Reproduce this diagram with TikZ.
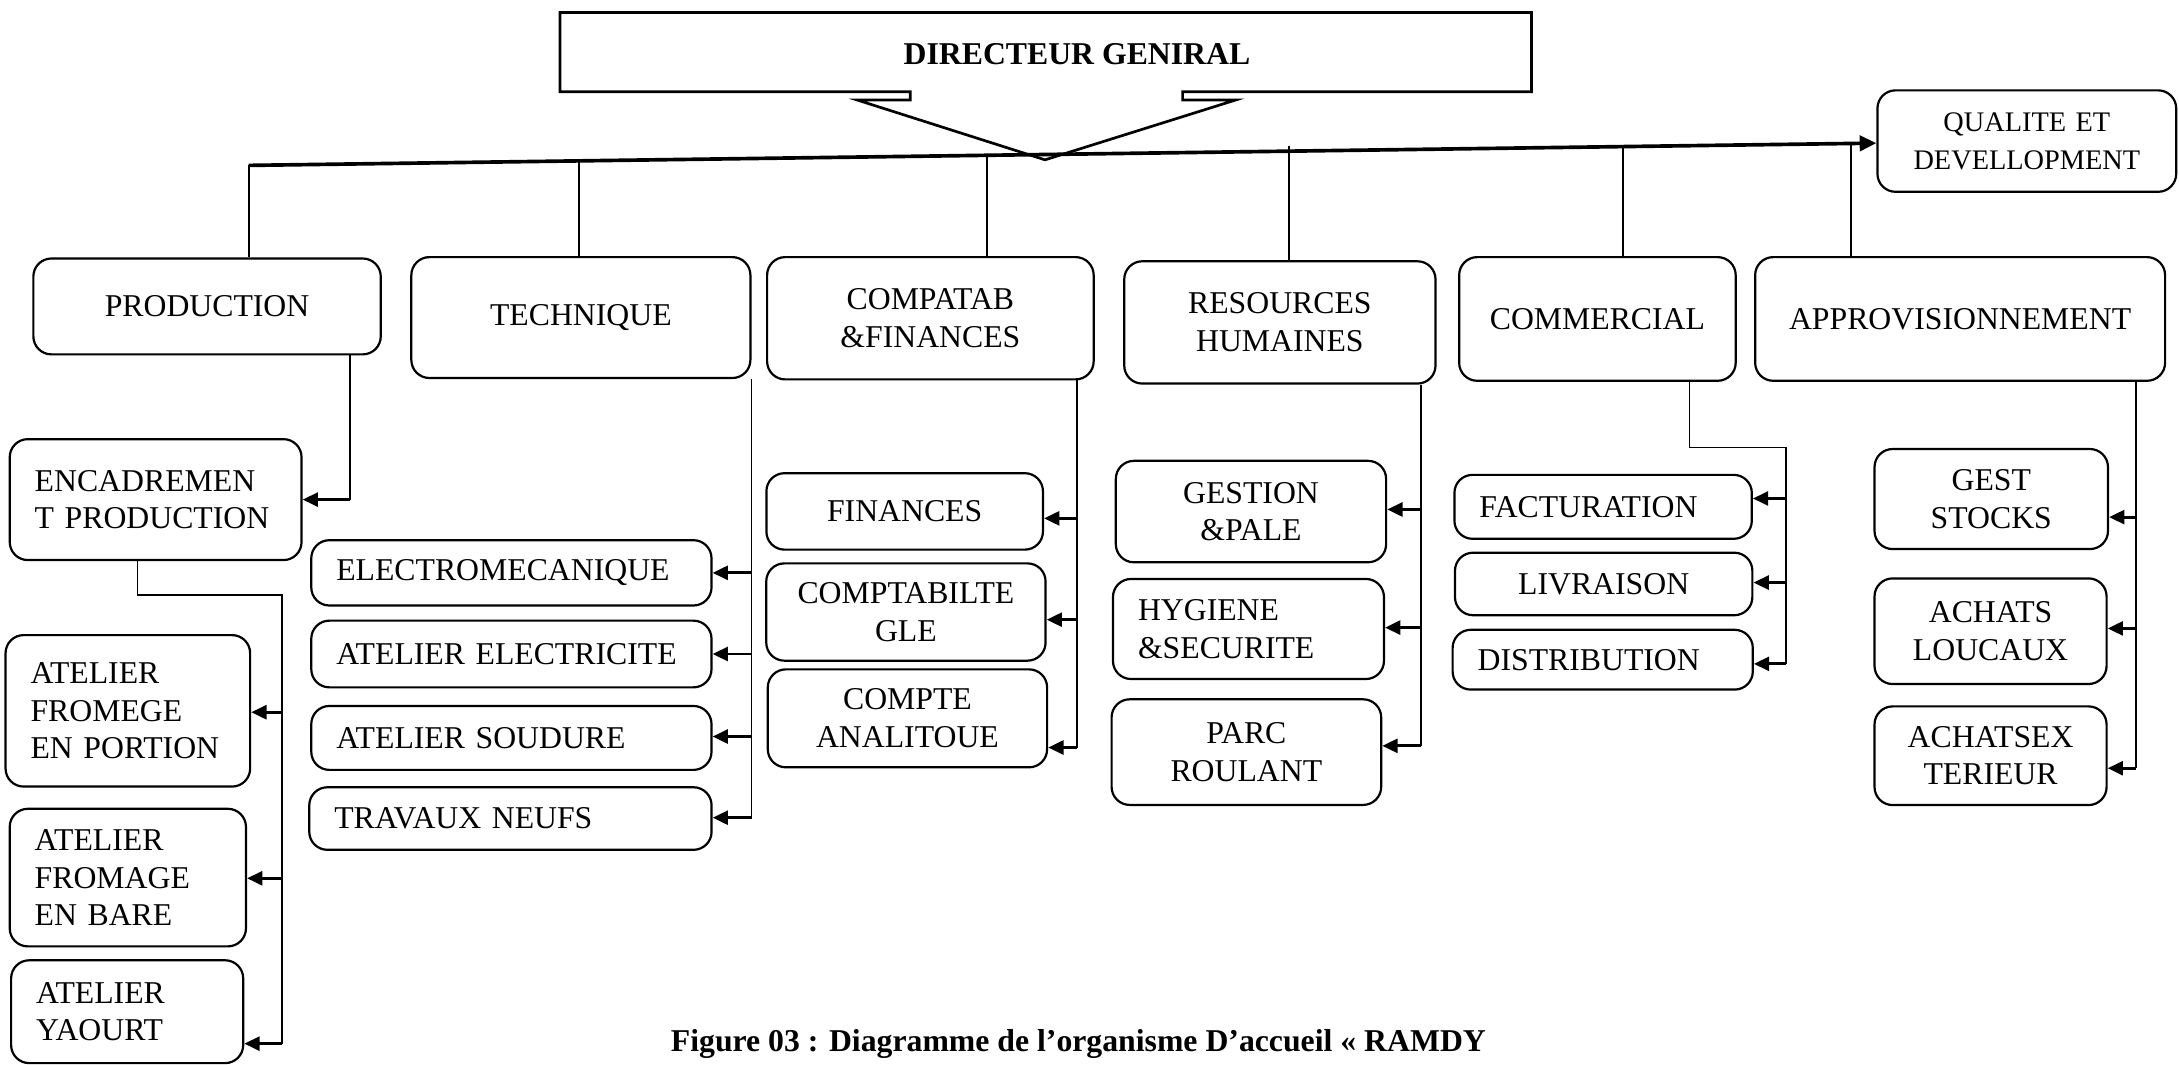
\documentclass[tikz,border=0pt]{standalone}
\usepackage{fontspec}
\setmainfont{Liberation Serif}
\tikzset{unite/.style={draw, rounded corners=1.3mm, line width=0.45pt, inner xsep=1.8mm, inner ysep=0.5pt, align=center}}
\tikzset{agauche/.style={align=left}}
\tikzset{gras/.style={font=\fontsize{6.5}{7.7}\selectfont\bfseries}}
\tikzset{fleche/.style={line width=0.6pt, -{Triangle[length=1.1mm,width=1mm]}}}
\usetikzlibrary{calc}
\usetikzlibrary{arrows.meta}

\begin{document}
\begin{tikzpicture}[x=0.1mm, y=-0.1mm, font=\fontsize{6.5}{7.7}\selectfont, line width=0.35pt]
\useasboundingbox (0,0) rectangle (1568,766);

% directeur
\node[gras] (dg) at (775,39) {DIRECTEUR GENIRAL};
\coordinate (pointe) at (752,115);
\draw[line width=0.55pt] (655,66) -- (403,66) -- (403,9) -- (1102,9) -- (1102,66) -- (851,66)
  -- (851,72) -- (889,72) -- (pointe) -- (617,72) -- (655,72) -- cycle;

% premier niveau
\node[unite, minimum width=21.5mm, minimum height=7.3mm, text width=19.5mm, inner xsep=1mm,
  font=\fontsize{5.8}{7.7}\selectfont] (qual) at (1458.5,101.5) {QUALITE ET\\DEVELLOPMENT};
\node[unite, minimum width=25mm, minimum height=6.9mm, text width=21.4mm] (prod) at (149,220.5) {PRODUCTION};
\node[unite, minimum width=24.4mm, minimum height=8.7mm, text width=20.8mm] (tech) at (418,228.5) {TECHNIQUE};
\node[unite, minimum width=23.5mm, minimum height=8.8mm, text width=19.9mm] (compta) at (669.5,229) {COMPATAB\\\&FINANCES};
\node[unite, minimum width=22.4mm, minimum height=8.8mm, text width=18.8mm] (rh) at (921,232) {RESOURCES\\HUMAINES};
\node[unite, minimum width=19.9mm, minimum height=8.9mm, text width=16.3mm] (comm) at (1149.5,229.5) {COMMERCIAL};
\node[unite, minimum width=29.5mm, minimum height=8.9mm, text width=25.9mm] (appro) at (1410.5,229.5) {APPROVISIONNEMENT};

% production
\node[unite, agauche, minimum width=21mm, minimum height=8.7mm, text width=17.4mm] (enc) at (112,359.5) {ENCADREMEN\\T PRODUCTION};
\node[unite, agauche, minimum width=17.6mm, minimum height=10.9mm, text width=14mm] (afp) at (92,511.5) {ATELIER\\FROMEGE\\EN PORTION};
\node[unite, agauche, minimum width=17mm, minimum height=9.9mm, text width=13.4mm] (afb) at (92,631.5) {ATELIER\\FROMAGE\\EN BARE};
\node[unite, agauche, minimum width=16.7mm, minimum height=7.4mm, text width=13.1mm] (ay) at (91.5,728) {ATELIER\\YAOURT};

% technique
\node[unite, agauche, minimum width=28.8mm, minimum height=4.7mm, text width=25.2mm] (elec) at (368,412.2) {ELECTROMECANIQUE};
\node[unite, agauche, minimum width=28.8mm, minimum height=4.8mm, text width=25.2mm] (aelec) at (368,470.6) {ATELIER ELECTRICITE};
\node[unite, agauche, minimum width=28.8mm, minimum height=4.6mm, text width=25.2mm] (soud) at (368,531) {ATELIER SOUDURE};
\node[unite, agauche, minimum width=28.95mm, minimum height=4.5mm, text width=25.35mm] (trav) at (367.3,589) {TRAVAUX NEUFS};

% compta
\node[unite, minimum width=19.9mm, minimum height=5.5mm, text width=16.3mm] (fin) at (651,368) {FINANCES};
\node[unite, minimum width=20.1mm, minimum height=7mm, text width=16.5mm] (cgle) at (651.9,440.4) {COMPTABILTE\\GLE};
\node[unite, minimum width=20.1mm, minimum height=7.05mm, text width=16.5mm] (cana) at (653,516.9) {COMPTE\\ANALITOUE};

% ressources humaines
\node[unite, minimum width=19.45mm, minimum height=7.3mm, text width=15.85mm] (gp) at (900.2,368.1) {GESTION\\\&PALE};
\node[unite, agauche, minimum width=19.5mm, minimum height=7.2mm, text width=15.9mm] (hs) at (898.4,452.6) {HYGIENE\\\&SECURITE};
\node[unite, minimum width=19.4mm, minimum height=7.6mm, text width=15.8mm] (parc) at (896.9,541.2) {PARC\\ROULANT};

% commercial
\node[unite, agauche, minimum width=21.4mm, minimum height=4.6mm, text width=17.8mm] (fact) at (1153.6,364.7) {FACTURATION};
\node[unite, minimum width=21.4mm, minimum height=4.5mm, text width=17.8mm] (livr) at (1154,420.2) {LIVRAISON};
\node[unite, agauche, minimum width=21.6mm, minimum height=4.3mm, text width=18mm] (dist) at (1153.3,474.7) {DISTRIBUTION};

% approvisionnement
\node[unite, minimum width=16.8mm, minimum height=7.2mm, text width=13.2mm] (gs) at (1432.9,359.1) {GEST\\STOCKS};
\node[unite, minimum width=16.7mm, minimum height=7.6mm, text width=13.1mm] (al) at (1432.4,454.2) {ACHATS\\LOUCAUX};
\node[unite, minimum width=16.7mm, minimum height=7.1mm, text width=13.1mm] (ae) at (1432.4,543.8) {ACHATSEX\\TERIEUR};

\node[gras] (titre) at (776,751) {Figure 03 : Diagramme de l’organisme D’accueil « RAMDY};

% trait principal
\coordinate (t1) at (179,119);
\coordinate (t2) at (416.5,116);
\coordinate (t3) at (710,111);
\coordinate (t4) at (927.4,105);
\coordinate (t5) at (1167.7,105);
\coordinate (t6) at (1332,103);
\draw[line width=0.75pt, -{Triangle[length=1.2mm,width=1.1mm]}] (t1) -- (qual);
\foreach \t/\n in {t1/prod, t2/tech, t3/compta, t4/rh, t5/comm, t6/appro}
  \draw (\t) -- (\t |- \n.north);

% liaisons production
\coordinate (p0) at ([xshift=-2.3mm]prod.south east);
\draw (p0) -- (p0 |- enc.east);
\draw[fleche] (p0 |- enc.east) -- (enc.east);
\coordinate (p1) at ([xshift=-1.3mm]enc.south);
\coordinate (p2) at (203,428);
\draw (p1) |- ([xshift=0.1mm]p2);
\foreach \n/\d in {afp/1, afb/0.5, ay/23}{
  \coordinate (\n-e) at ($(\n.east)+(0,\d)$);
  \draw[fleche] (p2 |- \n-e) -- (\n-e);
}
\draw (p2) -- (p2 |- ay-e);

% liaisons technique
\coordinate (q0) at (tech.south east);
\foreach \n/\d in {elec/0, aelec/0, soud/-1, trav/-0.6}{
  \coordinate (\n-e) at ($(\n.east)+(0,\d)$);
  \draw[fleche] (q0 |- \n-e) -- (\n-e);
}
\draw (q0) -- (q0 |- trav-e);

% liaisons compta
\coordinate (c0) at ([xshift=-1.3mm]compta.south east);
\foreach \n/\d in {fin/5, cgle/5.5, cana/21}{
  \coordinate (\n-e) at ($(\n.east)+(0,\d)$);
  \draw[fleche] (c0 |- \n-e) -- (\n-e);
}
\draw (c0) -- (c0 |- cana-e);

% liaisons ressources humaines
\coordinate (r0) at ([xshift=-1.1mm]rh.south east);
\foreach \n/\d in {gp/-1.5, hs/-1, parc/-4.5}{
  \coordinate (\n-e) at ($(\n.east)+(0,\d)$);
  \draw[fleche] (r0 |- \n-e) -- (\n-e);
}
\draw (r0) -- (r0 |- parc-e);

% liaisons commercial
\coordinate (m0) at ([xshift=-3.4mm]comm.south east);
\coordinate (m1) at (1285,322);
\draw (m0) |- (m1);
\foreach \n/\d in {fact/-6, livr/-1, dist/3}{
  \coordinate (\n-e) at ($(\n.east)+(0,\d)$);
  \draw[fleche] (m1 |- \n-e) -- (\n-e);
}
\draw (m1) -- (m1 |- dist-e);

% liaisons approvisionnement
\coordinate (a0) at ([xshift=-2.15mm]appro.south east);
\foreach \n/\d in {gs/13, al/-2, ae/9}{
  \coordinate (\n-e) at ($(\n.east)+(0,\d)$);
  \draw[fleche] (a0 |- \n-e) -- (\n-e);
}
\draw (a0) -- (a0 |- ae-e);
\end{tikzpicture}
\end{document}
